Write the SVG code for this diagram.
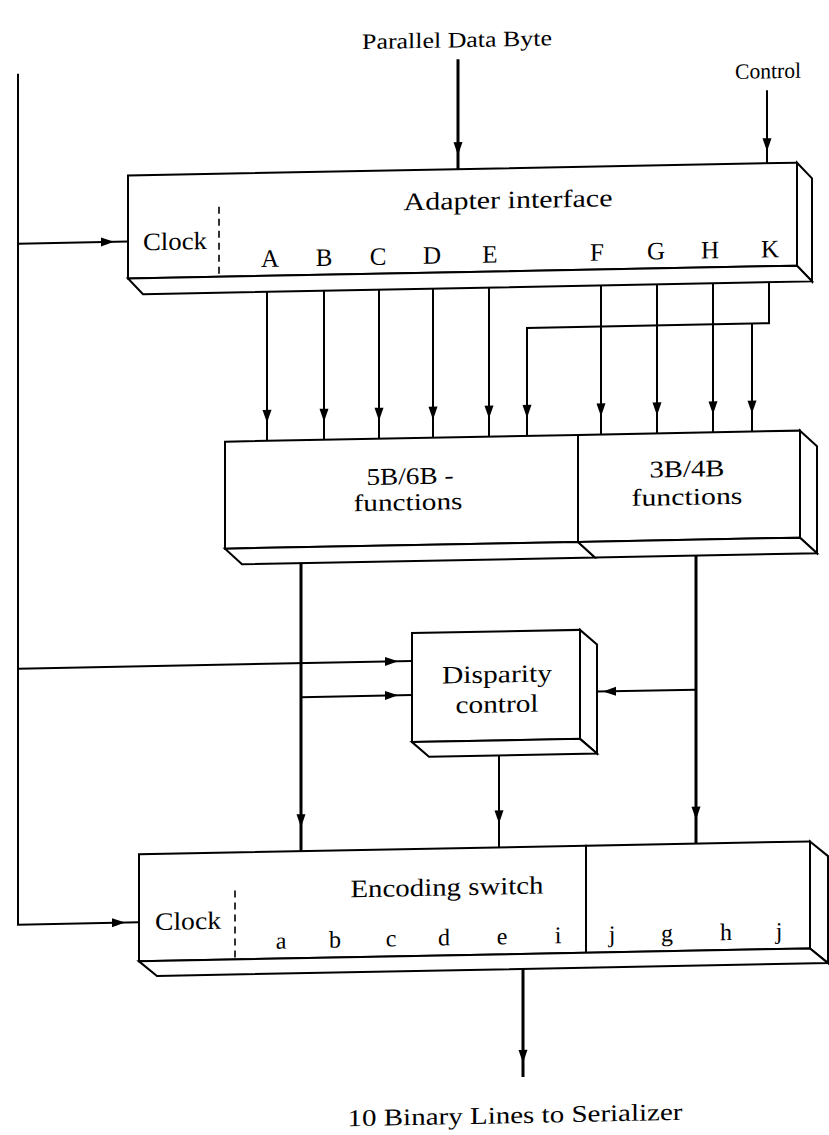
<svg xmlns="http://www.w3.org/2000/svg" width="829" height="1135" viewBox="0 0 829 1135">
<style>
.bx{fill:#fff;stroke:#000;stroke-width:2;stroke-linejoin:miter}
.ln{fill:none;stroke:#000;stroke-width:2}
.lt{fill:none;stroke:#000;stroke-width:3}
.dash{stroke:#000;stroke-width:1.6;stroke-dasharray:7,5}
text{font-family:"Liberation Serif","Times New Roman",serif;fill:#000}
.t25{font-size:25px}
.t24{font-size:24px}
.t22{font-size:22px}
.m{text-anchor:middle}
</style>
<defs>
<marker id="a6" markerUnits="userSpaceOnUse" markerWidth="13" markerHeight="9" refX="19" refY="4.5" orient="auto" overflow="visible"><path d="M0,0 L13,4.5 L0,9 z" fill="#000"/></marker>
<marker id="a12" markerUnits="userSpaceOnUse" markerWidth="13" markerHeight="9" refX="25" refY="4.5" orient="auto" overflow="visible"><path d="M0,0 L13,4.5 L0,9 z" fill="#000"/></marker>
<marker id="a14" markerUnits="userSpaceOnUse" markerWidth="13" markerHeight="9" refX="27" refY="4.5" orient="auto" overflow="visible"><path d="M0,0 L13,4.5 L0,9 z" fill="#000"/></marker>
<marker id="a18" markerUnits="userSpaceOnUse" markerWidth="13" markerHeight="9" refX="31" refY="4.5" orient="auto" overflow="visible"><path d="M0,0 L13,4.5 L0,9 z" fill="#000"/></marker>
<marker id="a24" markerUnits="userSpaceOnUse" markerWidth="13" markerHeight="9" refX="37" refY="4.5" orient="auto" overflow="visible"><path d="M0,0 L13,4.5 L0,9 z" fill="#000"/></marker>
</defs>
<rect width="829" height="1135" fill="#fff"/>
<g transform="skewY(-1.1)">
<g id="labels">
<text class="t22 m" x="457" y="56" textLength="190" lengthAdjust="spacingAndGlyphs">Parallel Data Byte</text>
<text class="t22 m" x="768" y="93" textLength="66" lengthAdjust="spacingAndGlyphs">Control</text>
<text class="t24 m" x="515" y="1133" textLength="335" lengthAdjust="spacingAndGlyphs">10 Binary Lines to Serializer</text>
</g>
<g id="adapter">
<rect class="bx" x="128" y="178" width="669" height="103"/>
<polygon class="bx" points="797,178 812,194 812,297 797,281"/>
<polygon class="bx" points="128,281 797,281 812,297 143,297"/>
<line class="dash" x1="219" y1="211" x2="219" y2="281"/>
<text class="t25 m" x="508" y="218" textLength="209" lengthAdjust="spacingAndGlyphs">Adapter interface</text>
<text class="t25" x="143" y="253" textLength="64" lengthAdjust="spacingAndGlyphs">Clock</text>
<g class="t25 m">
<text x="270" y="272">A</text><text x="324" y="272">B</text><text x="378" y="272">C</text><text x="432" y="272">D</text><text x="490" y="272">E</text>
<text x="597" y="272">F</text><text x="656" y="272">G</text><text x="710" y="272">H</text><text x="770" y="272">K</text>
</g>
</g>
<g id="f5b6b">
<rect class="bx" x="225" y="446" width="353" height="107"/>
<polygon class="bx" points="225,553 578,553 595,569 242,569"/>
<text class="t24 m" x="410" y="492" textLength="87" lengthAdjust="spacingAndGlyphs">5B/6B -</text>
<text class="t24 m" x="408" y="518" textLength="109" lengthAdjust="spacingAndGlyphs">functions</text>
</g>
<g id="f3b4b">
<rect class="bx" x="578" y="446" width="222" height="107"/>
<polygon class="bx" points="800,446 817,462 817,569 800,553"/>
<polygon class="bx" points="578,553 800,553 817,569 595,569"/>
<text class="t24 m" x="687" y="490" textLength="75" lengthAdjust="spacingAndGlyphs">3B/4B</text>
<text class="t24 m" x="687" y="518" textLength="111" lengthAdjust="spacingAndGlyphs">functions</text>
</g>
<g id="disparity">
<rect class="bx" x="412" y="641" width="168" height="109"/>
<polygon class="bx" points="580,641 597,656 597,765 580,750"/>
<polygon class="bx" points="412,750 580,750 597,765 429,765"/>
<text class="t25 m" x="497" y="692" textLength="110" lengthAdjust="spacingAndGlyphs">Disparity</text>
<text class="t25 m" x="497" y="722" textLength="83" lengthAdjust="spacingAndGlyphs">control</text>
</g>
<g id="encoding">
<rect class="bx" x="139" y="857" width="447" height="107"/>
<rect class="bx" x="586" y="857" width="224" height="107"/>
<polygon class="bx" points="810,857 828,872 828,979 810,964"/>
<polygon class="bx" points="139,964 810,964 828,979 157,979"/>
<line class="dash" x1="235" y1="895" x2="235" y2="964"/>
<text class="t25 m" x="447" y="904" textLength="193" lengthAdjust="spacingAndGlyphs">Encoding switch</text>
<text class="t25" x="155" y="933" textLength="66" lengthAdjust="spacingAndGlyphs">Clock</text>
<g class="t24 m">
<text x="281" y="954">a</text><text x="335" y="954">b</text><text x="391" y="954">c</text><text x="444" y="954">d</text><text x="502" y="954">e</text><text x="558" y="954">i</text>
<text x="612" y="954">j</text><text x="667" y="954">g</text><text x="726" y="954">h</text><text x="779" y="954">j</text>
</g>
</g>
<g id="connectors">
<path class="lt" d="M458,68 V178" marker-end="url(#a14)"/>
<path class="ln" d="M767,105 V178" marker-end="url(#a12)"/>
<path class="ln" d="M18,74 V925 H139" marker-end="url(#a14)"/>
<path class="ln" d="M18,244 H128" marker-end="url(#a14)"/>
<path class="ln" d="M18,669 H412" marker-end="url(#a14)"/>
<path class="ln" d="M301,703 H412" marker-end="url(#a14)"/>
<path class="ln" d="M696,703 H597" marker-end="url(#a6)"/>
<path class="ln" d="M267,297 V446" marker-end="url(#a18)"/>
<path class="ln" d="M324,297 V446" marker-end="url(#a18)"/>
<path class="ln" d="M379,297 V446" marker-end="url(#a18)"/>
<path class="ln" d="M433,297 V446" marker-end="url(#a18)"/>
<path class="ln" d="M489,297 V446" marker-end="url(#a18)"/>
<path class="ln" d="M601,297 V446" marker-end="url(#a18)"/>
<path class="ln" d="M657,297 V446" marker-end="url(#a18)"/>
<path class="ln" d="M713,297 V446" marker-end="url(#a18)"/>
<path class="ln" d="M769,297 V338 H527 V446" marker-end="url(#a18)"/>
<path class="ln" d="M752,338 V446" marker-end="url(#a18)"/>
<path class="lt" d="M301,569 V857" marker-end="url(#a24)"/>
<path class="lt" d="M696,569 V857" marker-end="url(#a24)"/>
<path class="ln" d="M499,765 V857" marker-end="url(#a24)"/>
<path class="lt" d="M523,979 V1087" marker-end="url(#a14)"/>
</g>
</g>
</svg>
